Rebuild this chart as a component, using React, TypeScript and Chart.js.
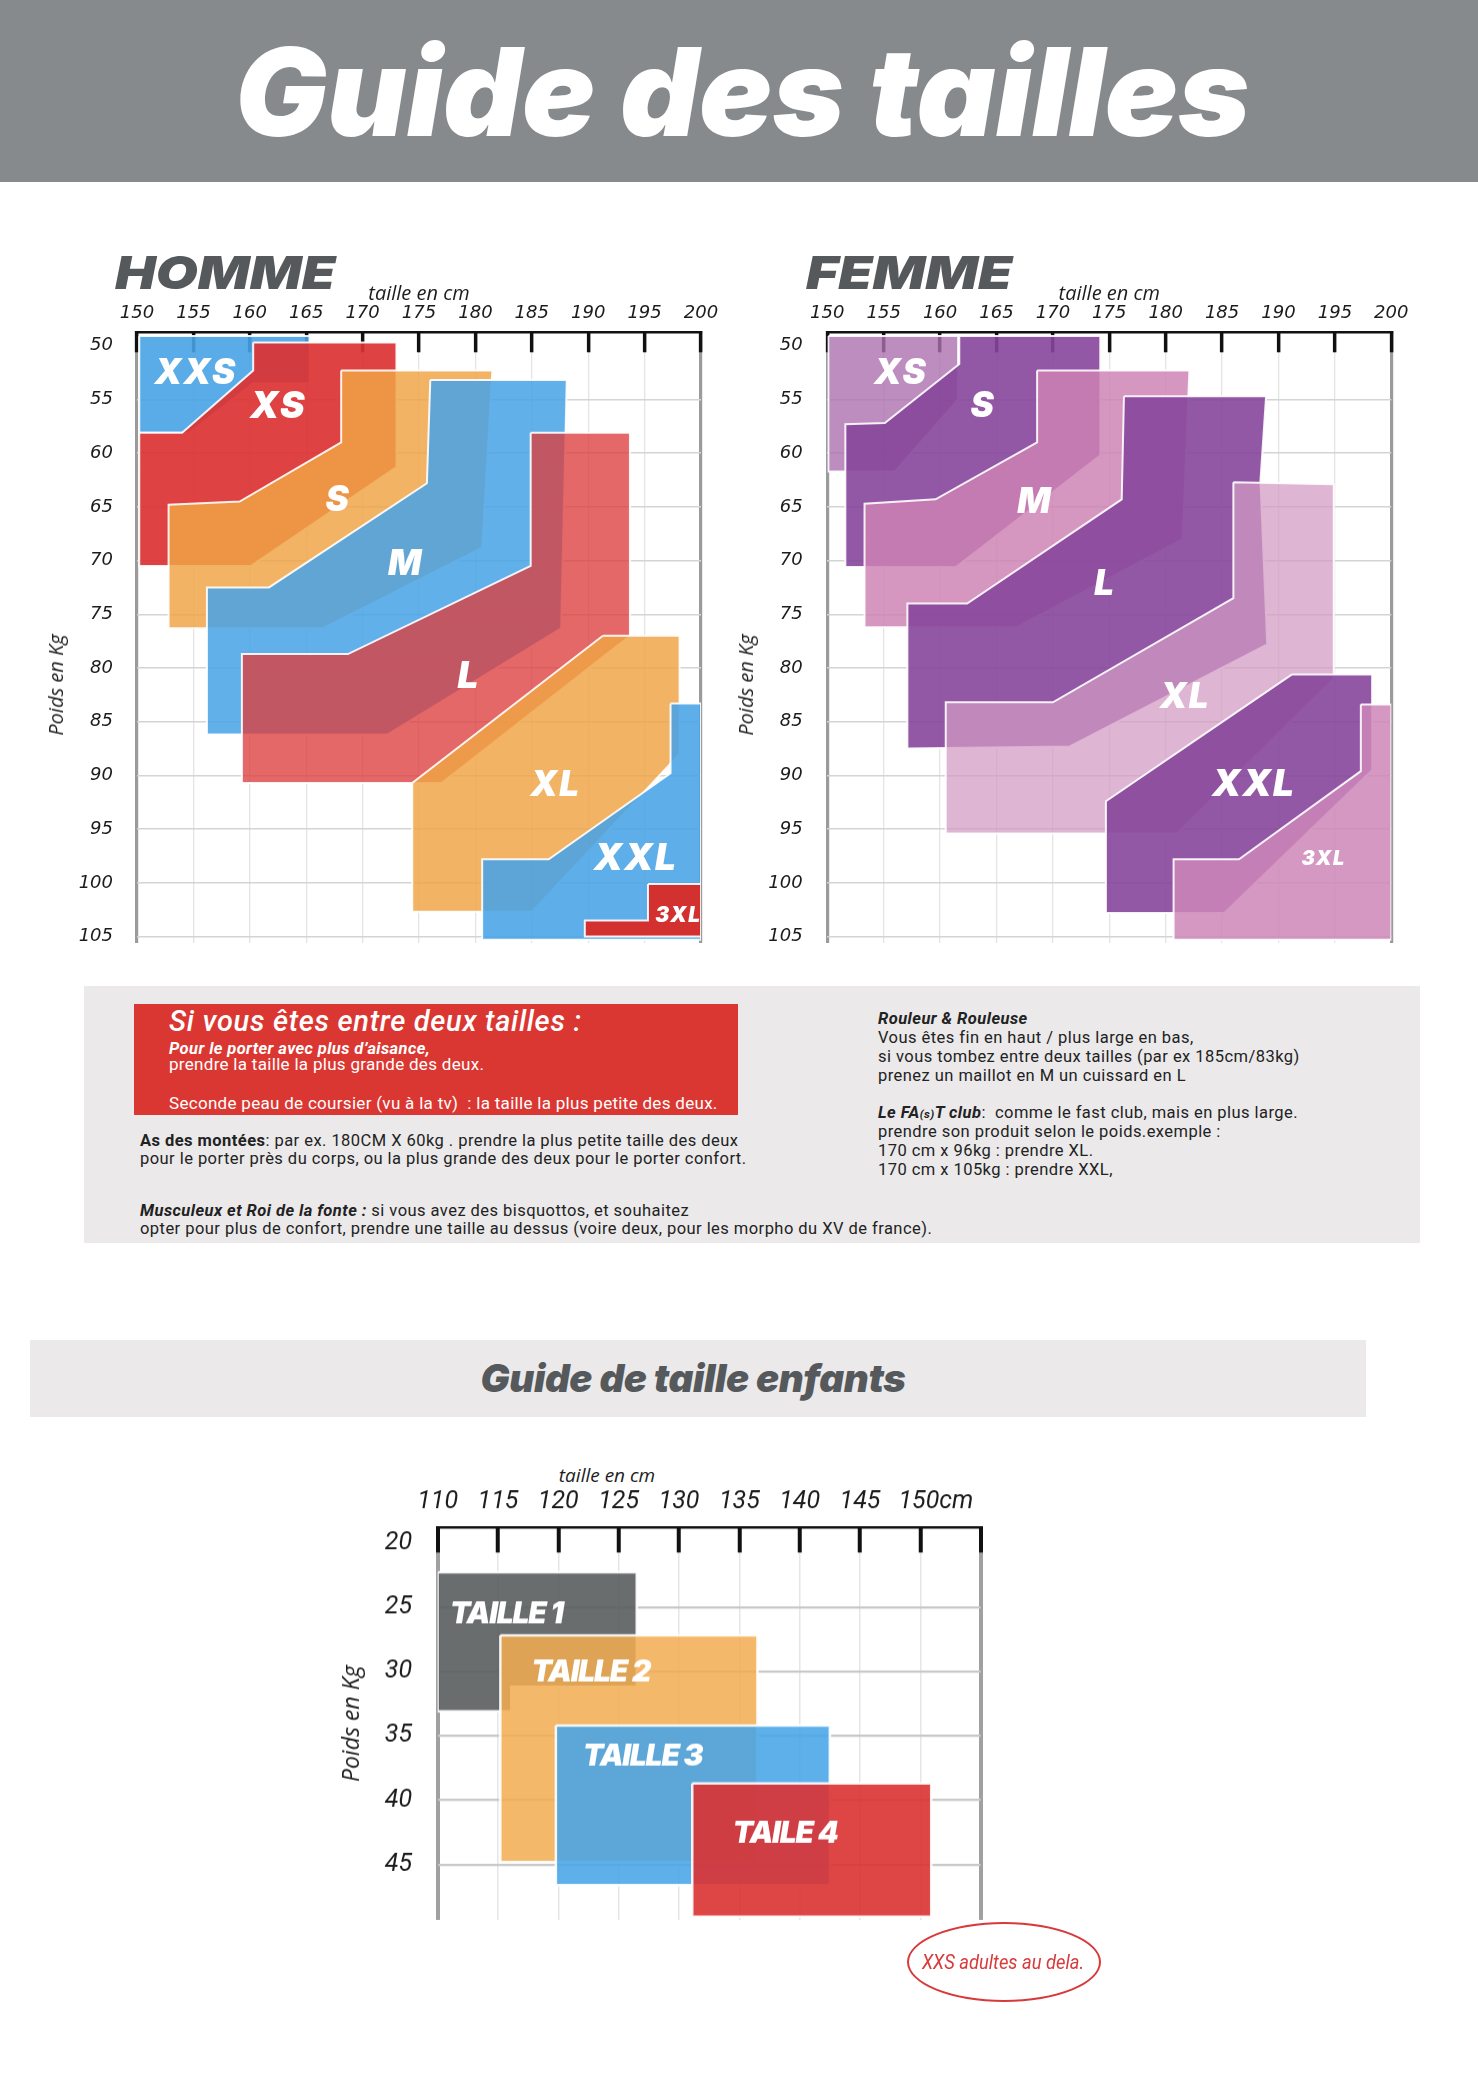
import React, { useEffect, useRef } from "react";
import { Chart, registerables } from "chart.js";

Chart.register(...registerables);

type Pt = [number, number];

// ---------------- axis ticks ----------------
const adultHeightTicks = [150, 155, 160, 165, 170, 175, 180, 185, 190, 195, 200];
const adultWeightTicks = [50, 55, 60, 65, 70, 75, 80, 85, 90, 95, 100, 105];
const kidHeightTicks = [110, 115, 120, 125, 130, 135, 140, 145, 150, 155];
const kidHeightLabels = ["110", "115", "120", "125", "130", "135", "140", "145", "\u2003 150cm", ""];
const kidWeightTicks = [20, 25, 30, 35, 40, 45];

// ---------------- HOMME (taille cm, poids kg) ----------------
const hommeSizes = ["XXS", "XS", "S", "M", "L", "XL", "XXL", "3XL"];
const hommeXXS: Pt[] = [[150.2, 49.1], [165.3, 49.1], [165.3, 53.5], [160.3, 53.5], [154.6, 58.1], [150.2, 58.1]];
const hommeXS: Pt[] = [[160.3, 49.7], [173.0, 49.7], [173.0, 61.3], [160.1, 70.5], [150.2, 70.5], [150.2, 58.1], [154.0, 58.1], [160.3, 52.3]];
const hommeS: Pt[] = [[168.1, 52.3], [181.5, 52.3], [180.6, 68.8], [166.5, 76.3], [152.8, 76.3], [152.8, 64.8], [159.1, 64.5], [168.1, 59.0]];
const hommeM: Pt[] = [[176.0, 53.2], [188.1, 53.2], [187.6, 76.3], [172.2, 86.2], [156.2, 86.2], [156.2, 72.5], [161.7, 72.5], [175.7, 62.8]];
const hommeL: Pt[] = [[184.9, 58.1], [193.7, 58.1], [193.7, 77.0], [177.0, 90.7], [159.3, 90.7], [159.3, 78.7], [168.7, 78.7], [184.9, 70.5]];
const hommeXL: Pt[] = [[191.3, 77.0], [198.1, 77.0], [198.1, 88.0], [185.0, 102.7], [174.4, 102.7], [174.4, 90.7]];
const hommeXXL: Pt[] = [[197.3, 83.3], [200.0, 83.3], [200.0, 105.3], [180.6, 105.3], [180.6, 97.8], [186.5, 97.8], [197.3, 89.8]];
const homme3XL: Pt[] = [[195.3, 100.1], [200.0, 100.1], [200.0, 105.0], [189.7, 105.0], [189.7, 103.5], [195.3, 103.5]];
const hommeColors = [
  "rgba(72,163,230,0.9)",
  "rgba(220,50,50,0.92)",
  "rgba(240,165,70,0.84)",
  "rgba(72,163,230,0.86)",
  "rgba(222,62,62,0.78)",
  "rgba(240,165,70,0.84)",
  "rgba(72,163,230,0.88)",
  "rgba(214,44,40,0.97)",
];
const hommeLabelPos: Pt[] = [[155.2, 52.6], [162.5, 55.7], [167.8, 64.4], [173.8, 70.4], [179.4, 80.8], [187.1, 90.9], [194.2, 97.8], [198.0, 103.1]];
const hommeLabelSize = [35, 37, 35, 35, 37, 35, 37, 21];

// ---------------- FEMME ----------------
const femmeSizes = ["XS", "S", "M", "L", "XL", "XXL", "3XL"];
const femmeXS: Pt[] = [[150.1, 49.1], [161.6, 49.1], [161.6, 55.0], [156.0, 61.7], [150.1, 61.7]];
const femmeS: Pt[] = [[161.7, 49.1], [174.2, 49.1], [174.2, 60.2], [161.4, 70.6], [151.6, 70.6], [151.6, 57.3], [155.1, 57.2], [161.7, 51.7]];
const femmeM: Pt[] = [[168.6, 52.3], [182.1, 52.3], [181.5, 68.0], [166.8, 76.2], [153.3, 76.2], [153.3, 64.7], [159.6, 64.3], [168.6, 59.0]];
const femmeL: Pt[] = [[176.3, 54.7], [188.9, 54.7], [188.4, 62.6], [189.0, 77.8], [171.5, 87.3], [157.1, 87.5], [157.1, 74.0], [162.4, 74.0], [176.1, 64.3]];
const femmeXL: Pt[] = [[186.0, 62.7], [194.9, 62.9], [194.9, 81.0], [181.0, 95.4], [160.5, 95.4], [160.5, 83.2], [170.0, 83.2], [186.0, 73.5]];
const femmeXXL: Pt[] = [[191.2, 80.6], [198.3, 80.6], [198.3, 89.5], [185.2, 102.8], [174.7, 102.8], [174.7, 92.4]];
const femme3XL: Pt[] = [[197.3, 83.4], [200.0, 83.4], [200.0, 105.3], [180.7, 105.3], [180.7, 97.8], [186.5, 97.8], [197.3, 89.6]];
const femmeColors = [
  "rgba(172,112,176,0.8)",
  "rgba(135,70,155,0.9)",
  "rgba(205,130,180,0.84)",
  "rgba(135,70,155,0.9)",
  "rgba(210,155,195,0.74)",
  "rgba(135,70,155,0.9)",
  "rgba(205,135,185,0.86)",
];
const femmeLabelPos: Pt[] = [[156.5, 52.6], [163.8, 55.7], [168.4, 64.6], [174.6, 72.2], [181.7, 82.7], [187.8, 90.9], [194.0, 97.8]];
const femmeLabelSize = [35, 35, 35, 35, 35, 37, 20];

// ---------------- ENFANTS ----------------
const kidSizes = ["TAILLE 1", "TAILLE 2", "TAILLE 3", "TAILE 4"];
const kidTaille1: Pt[] = [[110.0, 22.3], [126.5, 22.3], [126.5, 31.2], [116.1, 31.2], [116.1, 33.1], [110.0, 33.1]];
const kidTaille2: Pt[] = [[115.2, 27.2], [136.5, 27.2], [136.5, 44.8], [115.2, 44.8]];
const kidTaille3: Pt[] = [[119.8, 34.2], [142.5, 34.2], [142.5, 46.6], [119.8, 46.6]];
const kidTaille4: Pt[] = [[131.1, 38.7], [150.9, 38.7], [150.9, 49.05], [131.1, 49.05]];
const kidColors = ["rgba(90,93,94,0.9)", "rgba(242,172,82,0.86)", "rgba(72,165,232,0.88)", "rgba(218,50,50,0.9)"];
const kidLabelPos: Pt[] = [[115.7, 25.6], [122.7, 30.1], [127.0, 36.6], [138.8, 42.6]];
const kidLabelSize = [30, 30, 30, 30];

// ---------------- chart helpers ----------------
const sizeLabelPlugin = {
  id: "sizeLabels",
  afterDatasetsDraw(chart: any, _args: any, opts: any) {
    const { ctx, scales } = chart;
    const items = (opts && opts.items) || [];
    ctx.save();
    ctx.fillStyle = "#ffffff";
    ctx.textAlign = "center";
    ctx.textBaseline = "middle";
    for (const it of items) {
      ctx.font = `italic 900 ${it.size}px Inter`;
      if ("letterSpacing" in ctx) (ctx as any).letterSpacing = `${opts.spacing || 0}px`;
      ctx.fillText(it.text, scales.x.getPixelForValue(it.x), scales.y.getPixelForValue(it.y));
    }
    ctx.restore();
  },
};

function makeConfig(s: any): any {
  const datasets = s.shapes.map((pts: Pt[], i: number) => ({
    label: s.names[i],
    data: [...pts, pts[0]].map(([x, y]) => ({ x, y })),
    showLine: true,
    fill: "shape",
    backgroundColor: s.colors[i],
    borderColor: "rgba(255,255,255,0.9)",
    borderWidth: s.outline,
    borderJoinStyle: "miter",
    pointRadius: 0,
    pointHoverRadius: 0,
    pointHitRadius: 0,
    tension: 0,
    order: s.shapes.length - i,
  }));
  const items = s.names.map((t: string, i: number) => ({
    text: t,
    x: s.labelPos[i][0],
    y: s.labelPos[i][1],
    size: s.labelSize[i],
  }));
  const isEdge = (c: any) => c && c.tick && s.xEdges.includes(c.tick.value);
  return {
    type: "scatter",
    data: { datasets },
    plugins: [sizeLabelPlugin],
    options: {
      responsive: false,
      animation: false,
      events: [],
      layout: { padding: { left: 0, top: 0, right: s.padR, bottom: s.padB } },
      plugins: {
        legend: { display: false },
        tooltip: { enabled: false },
        sizeLabels: { items, spacing: s.labelSpacing },
      },
      scales: {
        x: {
          type: "linear",
          position: "top",
          min: s.xMin,
          max: s.xMax,
          afterBuildTicks: (sc: any) => {
            sc.ticks = s.xTicks.map((v: number) => ({ value: v }));
          },
          afterFit: (sc: any) => {
            sc.height = s.xAxisH;
          },
          ticks: {
            autoSkip: false,
            maxRotation: 0,
            minRotation: 0,
            padding: s.xLabelPad,
            color: "#1c1c1c",
            font: s.tickFont,
            callback: (v: any, i: number) => (s.xLabels ? s.xLabels[i] : String(v)),
          },
          grid: {
            drawOnChartArea: true,
            drawTicks: true,
            tickLength: -s.tickLen,
            tickWidth: s.tickW,
            tickColor: "#111111",
            color: (c: any) => (isEdge(c) ? s.edgeColor : s.vGrid),
            lineWidth: (c: any) => (isEdge(c) ? s.edgeW : s.vGridW),
          },
          border: { display: true, color: "#111111", width: s.borderW },
          title: s.xTitle
            ? {
                display: true,
                text: s.xTitle.text,
                color: "#1c1c1c",
                font: s.xTitle.font,
                padding: { top: s.xTitle.padTop, bottom: 0 },
              }
            : { display: false },
        },
        y: {
          type: "linear",
          reverse: true,
          min: s.yMin,
          max: s.yMax,
          afterBuildTicks: (sc: any) => {
            sc.ticks = s.yTicks.map((v: number) => ({ value: v }));
          },
          afterFit: (sc: any) => {
            sc.width = s.yAxisW;
          },
          ticks: {
            autoSkip: false,
            padding: s.yLabelPad,
            color: "#1c1c1c",
            font: s.tickFont,
            callback: (v: any) => String(v),
          },
          grid: {
            drawTicks: false,
            color: (c: any) => (c && c.tick && c.tick.value === s.yTicks[0] ? "rgba(0,0,0,0)" : s.hGrid),
            lineWidth: s.hGridW,
          },
          border: { display: false },
          title: s.yTitle
            ? {
                display: true,
                text: s.yTitle.text,
                color: "#1c1c1c",
                font: s.yTitle.font,
                padding: { top: s.yTitle.padTop, bottom: 0 },
              }
            : { display: false },
        },
      },
    },
  };
}

function SizeChart({ spec }: { spec: any }) {
  const ref = useRef<HTMLCanvasElement>(null);
  useEffect(() => {
    const chart = new Chart(ref.current as HTMLCanvasElement, makeConfig(spec));
    return () => chart.destroy();
  }, []);
  return (
    <canvas
      ref={ref}
      width={spec.w}
      height={spec.h}
      style={{ position: "absolute", left: spec.left, top: spec.top, width: spec.w, height: spec.h }}
    />
  );
}

const adultTickFont = { family: '"DejaVu Sans"', size: 18, style: "italic", weight: "normal" };

// chart area: x 150..200 -> 137..701 px, y 48.75..105.6 kg -> 332.3..943.4 px (page coords)
const adultCommon = {
  top: 260,
  h: 723.4,
  xMin: 150,
  xMax: 200,
  yMin: 48.75,
  yMax: 105.6,
  xTicks: adultHeightTicks,
  yTicks: adultWeightTicks,
  xEdges: [150, 200],
  xAxisH: 72.3,
  padB: 40,
  tickFont: adultTickFont,
  xLabelPad: 27.7,
  yLabelPad: 24,
  tickLen: 20,
  tickW: 3.5,
  vGrid: "#e4e4e4",
  vGridW: 1.3,
  edgeColor: "#9b9b9b",
  edgeW: 3.2,
  hGrid: "#d4d4d4",
  hGridW: 1.5,
  borderW: 2.5,
  outline: 2,
  labelSpacing: 1.5,
  xTitle: { text: "taille en cm", font: { family: '"Open Sans"', size: 20, style: "italic", weight: "normal" }, padTop: 22.5 },
};

const hommeSpec = {
  ...adultCommon,
  left: 0,
  w: 751,
  yAxisW: 137,
  padR: 50,
  names: hommeSizes,
  shapes: [hommeXXS, hommeXS, hommeS, hommeM, hommeL, hommeXL, hommeXXL, homme3XL],
  colors: hommeColors,
  labelPos: hommeLabelPos,
  labelSize: hommeLabelSize,
};

const femmeSpec = {
  ...adultCommon,
  left: 690,
  w: 752,
  yAxisW: 137.3,
  padR: 50.7,
  yLabelPad: 24.7,
  names: femmeSizes,
  shapes: [femmeXS, femmeS, femmeM, femmeL, femmeXL, femmeXXL, femme3XL],
  colors: femmeColors,
  labelPos: femmeLabelPos,
  labelSize: femmeLabelSize,
};

const kidSpec = {
  left: 330,
  top: 1440,
  w: 700,
  h: 524.7,
  xMin: 110,
  xMax: 155,
  yMin: 18.83,
  yMax: 49.3,
  xTicks: kidHeightTicks,
  xLabels: kidHeightLabels,
  yTicks: kidWeightTicks,
  xEdges: [110, 155],
  xAxisH: 87.3,
  yAxisW: 107.6,
  padR: 49.3,
  padB: 45,
  tickFont: { family: "Roboto", size: 25, style: "italic", weight: "normal" },
  xLabelPad: 35.3,
  yLabelPad: 25.6,
  tickLen: 25,
  tickW: 4,
  vGrid: "#e6e6e6",
  vGridW: 1.5,
  edgeColor: "#a0a0a0",
  edgeW: 4,
  hGrid: "#c8c8c8",
  hGridW: 2.2,
  borderW: 2.5,
  outline: 2.5,
  labelSpacing: -1.2,
  yTitle: { text: "Poids en Kg", font: { family: '"Open Sans"', size: 23, style: "italic", weight: "normal" }, padTop: 8.8 },
  names: kidSizes,
  shapes: [kidTaille1, kidTaille2, kidTaille3, kidTaille4],
  colors: kidColors,
  labelPos: kidLabelPos,
  labelSize: kidLabelSize,
};

// ---------------- text helpers ----------------
const K_INTER = 0.864;
const K_ROBOTO = 0.842;
const K_OPEN = 0.888;

function Txt(p: any) {
  const {
    x,
    y,
    size,
    family = "Roboto",
    weight = 400,
    italic = false,
    color = "#222222",
    k = K_ROBOTO,
    align = "left",
    ls = 0,
    sx = 1,
    children,
  } = p;
  const style: any = {
    position: "absolute",
    top: y - k * size,
    left: x,
    fontFamily: family,
    fontSize: size,
    fontWeight: weight,
    fontStyle: italic ? "italic" : "normal",
    color,
    lineHeight: `${size}px`,
    whiteSpace: "pre",
    letterSpacing: ls,
    transformOrigin: align === "center" ? "center center" : "left center",
    transform: align === "center" ? `translateX(-50%) scaleX(${sx})` : `scaleX(${sx})`,
  };
  return <div style={style}>{children}</div>;
}

function VTxt(p: any) {
  const { cx, cy, size, family = '"Open Sans"', color = "#1c1c1c", children } = p;
  return (
    <div
      style={{
        position: "absolute",
        left: cx,
        top: cy,
        transform: "translate(-50%,-50%) rotate(-90deg)",
        fontFamily: family,
        fontSize: size,
        fontStyle: "italic",
        color,
        whiteSpace: "pre",
        lineHeight: `${size * 1.2}px`,
      }}
    >
      {children}
    </div>
  );
}

export default function App() {
  const note = { size: 16.5, ls: 0.45, color: "#222222" };
  const red = { size: 17, ls: 0.3 };
  return (
    <div style={{ position: "relative", width: 1478, height: 2078, background: "#ffffff", overflow: "hidden" }}>
      <style>{"html,body{margin:0;padding:0;background:#fff}"}</style>

      {/* header */}
      <div style={{ position: "absolute", left: 0, top: 0, width: 1478, height: 182, background: "#878a8c" }} />
      <Txt x={742.5} y={136.7} size={122} family="Inter" weight={900} italic color="#ffffff" k={K_INTER} align="center" ls={0.2}>
        Guide des tailles
      </Txt>

      {/* adult charts */}
      <Txt x={115} y={288.3} size={46} family="Inter" weight={900} italic color="#56595b" k={K_INTER} sx={1.18}>
        HOMME
      </Txt>
      <Txt x={806} y={288.3} size={46} family="Inter" weight={900} italic color="#56595b" k={K_INTER} sx={1.2}>
        FEMME
      </Txt>
      <SizeChart spec={hommeSpec} />
      <SizeChart spec={femmeSpec} />
      <VTxt cx={56} cy={685} size={20}>
        Poids en Kg
      </VTxt>
      <VTxt cx={746} cy={685} size={20}>
        Poids en Kg
      </VTxt>

      {/* notes */}
      <div style={{ position: "absolute", left: 84, top: 986, width: 1336, height: 257, background: "#ebe9ea" }} />
      <div style={{ position: "absolute", left: 134, top: 1004, width: 604, height: 111, background: "#db3732" }} />
      <Txt x={169} y={1031.7} size={29} weight={500} italic color="#ffffff" ls={0.7}>
        Si vous êtes entre deux tailles :
      </Txt>
      <Txt x={169} y={1055} size={16.5} weight={700} italic color="#ffffff" ls={0.4}>
        Pour le porter avec plus d’aisance,
      </Txt>
      <Txt x={169} y={1070.7} size={red.size} color="#ffffff" ls={red.ls}>
        prendre la taille la plus grande des deux.
      </Txt>
      <Txt x={169} y={1109} size={red.size} color="#ffffff" ls={red.ls}>
        Seconde peau de coursier (vu à la tv)  : la taille la plus petite des deux.
      </Txt>

      <Txt x={140} y={1146.7} size={note.size} ls={note.ls} color={note.color}>
        <b>As des montées</b>: par ex. 180CM X 60kg . prendre la plus petite taille des deux
      </Txt>
      <Txt x={140} y={1164.5} size={note.size} ls={note.ls} color={note.color}>
        pour le porter près du corps, ou la plus grande des deux pour le porter confort.
      </Txt>
      <Txt x={140} y={1217} size={note.size} ls={note.ls} color={note.color}>
        <b>
          <i>Musculeux et Roi de la fonte :</i>
        </b>{" "}
        si vous avez des bisquottos, et souhaitez
      </Txt>
      <Txt x={140} y={1235} size={note.size} ls={note.ls} color={note.color}>
        opter pour plus de confort, prendre une taille au dessus (voire deux, pour les morpho du XV de france).
      </Txt>

      <Txt x={878} y={1025} size={note.size} ls={note.ls} color={note.color}>
        <b>
          <i>Rouleur &amp; Rouleuse</i>
        </b>
      </Txt>
      <Txt x={878} y={1044} size={note.size} ls={note.ls} color={note.color}>
        Vous êtes fin en haut / plus large en bas,
      </Txt>
      <Txt x={878} y={1063} size={note.size} ls={note.ls} color={note.color}>
        si vous tombez entre deux tailles (par ex 185cm/83kg)
      </Txt>
      <Txt x={878} y={1081.7} size={note.size} ls={note.ls} color={note.color}>
        prenez un maillot en M un cuissard en L
      </Txt>
      <Txt x={878} y={1119} size={note.size} ls={note.ls} color={note.color}>
        <b>
          <i>
            Le FA<span style={{ fontSize: "0.7em" }}>(s)</span>T club
          </i>
        </b>
        :  comme le fast club, mais en plus large.
      </Txt>
      <Txt x={878} y={1138} size={note.size} ls={note.ls} color={note.color}>
        prendre son produit selon le poids.exemple :
      </Txt>
      <Txt x={878} y={1156.7} size={note.size} ls={note.ls} color={note.color}>
        170 cm x 96kg : prendre XL.
      </Txt>
      <Txt x={878} y={1175.7} size={note.size} ls={note.ls} color={note.color}>
        170 cm x 105kg : prendre XXL,
      </Txt>

      {/* kids */}
      <div style={{ position: "absolute", left: 30, top: 1340, width: 1336, height: 77, background: "#ebe9ea" }} />
      <Txt x={693} y={1392.7} size={38.5} family="Inter" weight={900} italic color="#55595b" k={K_INTER} align="center" ls={-0.4}>
        Guide de taille enfants
      </Txt>
      <Txt x={607} y={1483} size={19} family='"Open Sans"' italic color="#1c1c1c" k={K_OPEN} align="center">
        taille en cm
      </Txt>
      <SizeChart spec={kidSpec} />

      {/* note oval */}
      <div
        style={{
          position: "absolute",
          left: 907,
          top: 1922,
          width: 194,
          height: 80,
          border: "2.5px solid #d8393a",
          borderRadius: "50%",
          boxSizing: "border-box",
        }}
      />
      <Txt x={1003} y={1969} size={19.5} italic color="#d8393a" align="center" sx={0.94}>
        XXS adultes au dela.
      </Txt>
    </div>
  );
}
